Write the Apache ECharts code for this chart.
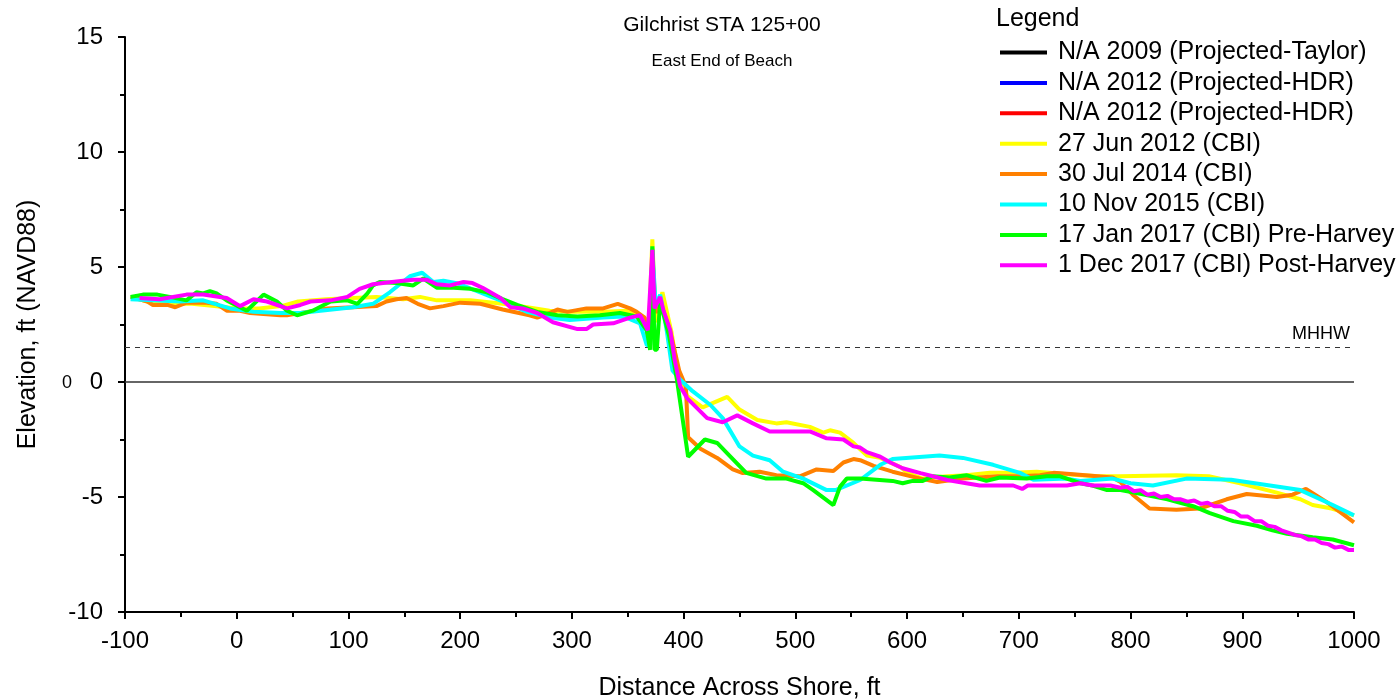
<!DOCTYPE html>
<html>
<head>
<meta charset="utf-8">
<script src="https://cdn.jsdelivr.net/npm/echarts@6/dist/echarts.min.js"></script>
<style>
  html, body { margin: 0; padding: 0; background: #fff; }
  #perfil { width: 1400px; height: 700px; }
</style>
</head>
<body>
<div id="perfil"></div>
<script>
/** PERFIL DE PLAYA - GILCHRIST STA 125+00 */

var fuente = 'Liberation Sans, Arial, sans-serif';
var nivel_mhhw = 1.5;

var nombres = [
    'N/A 2009 (Projected-Taylor)',
    'N/A 2012 (Projected-HDR)',
    'N/A 2012 (Projected-HDR) ',
    '27 Jun 2012 (CBI)',
    '30 Jul 2014 (CBI)',
    '10 Nov 2015 (CBI)',
    '17 Jan 2017 (CBI) Pre-Harvey',
    '1 Dec 2017 (CBI) Post-Harvey'
];
var colores = ['#000000', '#0000ff', '#ff0000', '#ffff00', '#ff8000', '#00ffff', '#00ff00', '#ff00ff'];

// perfiles proyectados: sin datos en el grafico
var proy_2009 = [];
var proy_2012_a = [];
var proy_2012_b = [];

var jun_2012 = [
    [-95,3.7],[-80,3.5],[-60,3.4],[-40,3.4],[-20,3.3],[0,3.2],[20,3.2],[40,3.3],[55,3.5],[80,3.6],
    [104,3.65],[125,3.7],[149,3.6],[164,3.7],[179,3.55],[209,3.55],[238,3.4],[260,3.25],[280,3.1],
    [298,3.05],[328,3.05],[352,3.1],[365,2.8],[369,2.4],[372,6.2],[375,2.6],[381,3.9],[389,2.2],
    [395,0.4],[403,-0.6],[417,-1.1],[439,-0.65],[450,-1.2],[466,-1.65],[483,-1.8],[492,-1.75],
    [513,-1.95],[525,-2.2],[531,-2.1],[540,-2.2],[552,-2.65],[564,-3.2],[576,-3.3],[594,-3.7],
    [600,-3.95],[614,-4.2],[636,-4.1],[653,-4.05],[674,-3.95],[695,-3.95],[716,-3.9],[755,-4.05],
    [773,-4.1],[791,-4.1],[841,-4.05],[870,-4.1],[898,-4.4],[930,-4.8],[952,-5.1],[963,-5.35],
    [980,-5.5],[1000,-5.8]
];

var jul_2014 = [
    [-95,3.7],[-80,3.5],[-75,3.35],[-62,3.35],[-55,3.25],[-45,3.45],[-27,3.45],[-18,3.4],[-9,3.1],
    [3,3.1],[12,3.0],[39,2.9],[45,2.9],[63,3.05],[81,3.2],[104,3.25],[125,3.3],[134,3.5],[143,3.6],
    [152,3.65],[162,3.4],[173,3.2],[185,3.3],[200,3.45],[218,3.4],[238,3.15],[262,2.9],[269,2.8],
    [275,2.9],[287,3.15],[296,3.05],[313,3.2],[328,3.2],[341,3.4],[352,3.2],[358,3.05],[365,2.8],
    [368,1.95],[370,2.0],[372,5.6],[375,3.0],[379,3.5],[388,2.2],[396,0.5],[402,-0.2],[404,-2.4],
    [415,-2.9],[430,-3.3],[444,-3.8],[453,-3.96],[468,-3.9],[483,-4.05],[504,-4.1],[519,-3.8],
    [534,-3.87],[543,-3.5],[552,-3.35],[558,-3.4],[570,-3.65],[587,-3.9],[612,-4.2],[627,-4.35],
    [650,-4.2],[681,-4.1],[701,-4.1],[719,-4.05],[731,-3.95],[746,-4.0],[784,-4.15],[791,-4.35],
    [802,-4.9],[817,-5.5],[841,-5.55],[862,-5.5],[886,-5.1],[904,-4.87],[931,-5.0],[945,-4.9],
    [957,-4.65],[975,-5.2],[1000,-6.1]
];

var nov_2015 = [
    [-95,3.6],[-75,3.55],[-51,3.5],[-30,3.55],[-6,3.2],[15,3.05],[39,3.0],[57,3.0],[75,3.1],
    [104,3.25],[122,3.4],[137,3.9],[155,4.6],[166,4.75],[176,4.35],[185,4.4],[197,4.3],[218,3.9],
    [238,3.5],[260,3.05],[280,2.8],[298,2.7],[328,2.8],[346,2.85],[361,2.55],[367,1.6],[370,1.6],
    [372,5.8],[375,3.3],[379,3.8],[385,2.2],[390,0.5],[397,0.1],[408,-0.4],[424,-1.0],[435,-1.57],
    [450,-2.8],[462,-3.2],[477,-3.4],[489,-3.9],[507,-4.2],[528,-4.7],[536,-4.7],[558,-4.26],
    [576,-3.6],[587,-3.35],[629,-3.2],[650,-3.3],[677,-3.6],[701,-3.95],[713,-4.25],[743,-4.2],
    [755,-4.3],[784,-4.2],[800,-4.4],[820,-4.5],[850,-4.2],[890,-4.25],[952,-4.7],[981,-5.35],
    [1000,-5.8]
];

var ene_2017 = [
    [-95,3.7],[-84,3.8],[-71,3.8],[-60,3.7],[-45,3.55],[-36,3.9],[-30,3.85],[-24,3.95],[-18,3.85],
    [-9,3.55],[9,3.1],[24,3.8],[36,3.5],[45,3.1],[54,2.9],[68,3.1],[84,3.5],[99,3.55],[108,3.4],
    [117,3.85],[122,4.2],[128,4.35],[143,4.3],[158,4.2],[167,4.5],[179,4.1],[194,4.1],[209,4.05],
    [224,3.9],[238,3.6],[251,3.35],[269,3.05],[287,2.9],[305,2.85],[325,2.9],[343,3.0],[358,2.85],
    [367,2.25],[370,1.4],[372,5.9],[374,1.4],[376,1.4],[379,3.5],[387,2.0],[394,0.1],[404,-3.25],
    [419,-2.5],[430,-2.65],[441,-3.2],[456,-3.95],[474,-4.2],[492,-4.2],[507,-4.4],[516,-4.7],
    [534,-5.35],[540,-4.55],[546,-4.2],[558,-4.2],[587,-4.3],[596,-4.4],[605,-4.3],[614,-4.3],
    [623,-4.1],[638,-4.15],[653,-4.05],[671,-4.3],[683,-4.15],[707,-4.2],[725,-4.1],[737,-4.1],
    [755,-4.4],[766,-4.5],[779,-4.7],[791,-4.7],[802,-4.8],[833,-5.1],[856,-5.4],[871,-5.7],
    [892,-6.05],[913,-6.25],[927,-6.45],[940,-6.6],[963,-6.75],[981,-6.85],[1000,-7.1]
];

var dic_2017 = [
    [-87,3.65],[-69,3.6],[-45,3.8],[-30,3.8],[-9,3.65],[3,3.3],[15,3.6],[27,3.5],[45,3.2],[57,3.35],
    [66,3.5],[84,3.55],[99,3.7],[110,4.05],[122,4.25],[131,4.3],[149,4.4],[158,4.45],[170,4.45],
    [179,4.25],[191,4.2],[203,4.35],[211,4.3],[220,4.1],[236,3.65],[245,3.25],[256,3.2],[269,3.0],
    [283,2.6],[305,2.3],[313,2.3],[319,2.5],[337,2.55],[352,2.8],[361,2.9],[368,2.25],[372,5.75],
    [374,3.2],[379,3.7],[382,3.1],[388,2.25],[392,0.95],[397,-0.2],[403,-0.7],[421,-1.57],
    [435,-1.75],[448,-1.45],[462,-1.8],[477,-2.15],[513,-2.15],[528,-2.45],[543,-2.5],[552,-2.8],
    [558,-2.85],[564,-3.05],[576,-3.25],[585,-3.5],[596,-3.75],[612,-3.96],[623,-4.1],[636,-4.26],
    [653,-4.4],[665,-4.5],[695,-4.5],[703,-4.65],[708,-4.5],[743,-4.5],[755,-4.4],[766,-4.5],
    [782,-4.5],[791,-4.6],[797,-4.55],[803,-4.75],[809,-4.7],[815,-4.9],[821,-4.85],[827,-5.0],
    [833,-4.95],[839,-5.1],[845,-5.1],[851,-5.2],[857,-5.15],[863,-5.3],[869,-5.25],[875,-5.4],
    [881,-5.4],[887,-5.6],[893,-5.65],[899,-5.85],[905,-5.85],[911,-6.05],[917,-6.05],[923,-6.25],
    [929,-6.3],[935,-6.45],[941,-6.55],[947,-6.65],[953,-6.7],[959,-6.85],[965,-6.85],[971,-7.0],
    [977,-7.05],[983,-7.2],[989,-7.15],[995,-7.3],[1000,-7.3]
];

var perfiles = [proy_2009, proy_2012_a, proy_2012_b, jun_2012, jul_2014, nov_2015, ene_2017, dic_2017];

grafico_perfil();

/** GRAFICO PERFIL */
function grafico_perfil() {
    var chart = echarts.init(document.getElementById('perfil'));

    var series = perfiles.map(function(datos, i) {
        return {
            name: nombres[i],
            type: 'line',
            data: datos,
            showSymbol: false,
            symbol: 'none',
            lineStyle: { width: 4, color: colores[i] },
            itemStyle: { color: colores[i] },
            z: 3 + i
        };
    });

    // lineas de referencia: cero y MHHW
    series.push({
        name: 'referencia',
        type: 'line',
        data: [],
        silent: true,
        markLine: {
            silent: true,
            symbol: 'none',
            animation: false,
            data: [
                { yAxis: 0, lineStyle: { color: '#333', width: 1.5, type: 'solid' }, label: { show: false } },
                { yAxis: nivel_mhhw, lineStyle: { color: '#333', width: 1, type: [5, 5] },
                  label: { show: true, position: 'insideEndTop', formatter: 'MHHW', color: '#000',
                           fontFamily: fuente, fontSize: 18, distance: [4, 4] } }
            ]
        }
    });

    var option = {
        animation: false,
        title: {
            text: 'Gilchrist STA 125+00',
            subtext: 'East End of Beach',
            left: 717,
            top: 10,
            textAlign: 'center',
            itemGap: 17,
            textStyle: { fontFamily: fuente, fontSize: 21, fontWeight: 'normal', color: '#000' },
            subtextStyle: { fontFamily: fuente, fontSize: 17, color: '#000' }
        },
        legend: {
            data: nombres,
            orient: 'vertical',
            left: 995,
            top: 35,
            icon: 'rect',
            itemWidth: 47,
            itemHeight: 4,
            itemGap: 5.4,
            selectedMode: false,
            textStyle: { fontFamily: fuente, fontSize: 25, color: '#000', lineHeight: 24, padding: [0, 0, 0, 6] }
        },
        graphic: [
            { type: 'text', left: 996, top: 7, style: { text: 'Legend', font: '25px ' + fuente, fill: '#000' } },
            { type: 'text', left: 62, top: 374, style: { text: '0', font: '18px ' + fuente, fill: '#000' } }
        ],
        grid: { left: 125, right: 46, top: 37, bottom: 88, outerBoundsMode: 'none' },
        xAxis: {
            type: 'value',
            min: -100,
            max: 1000,
            interval: 100,
            name: 'Distance Across Shore, ft',
            nameLocation: 'middle',
            nameGap: 64,
            nameTextStyle: { fontFamily: fuente, fontSize: 25, color: '#000' },
            axisLine: { show: true, onZero: false, lineStyle: { color: '#000', width: 2 } },
            axisTick: { show: true, length: 7, lineStyle: { color: '#000', width: 2 } },
            minorTick: { show: true, splitNumber: 2, length: 5, lineStyle: { color: '#000', width: 2 } },
            splitLine: { show: false },
            axisLabel: { fontFamily: fuente, fontSize: 24, color: '#000', margin: 17, formatter: function(v) { return String(v); } }
        },
        yAxis: {
            type: 'value',
            min: -10,
            max: 15,
            interval: 5,
            name: 'Elevation, ft (NAVD88)',
            nameLocation: 'middle',
            nameGap: 84,
            nameTextStyle: { fontFamily: fuente, fontSize: 25, color: '#000' },
            axisLine: { show: true, onZero: false, lineStyle: { color: '#000', width: 2 } },
            axisTick: { show: true, length: 7, lineStyle: { color: '#000', width: 2 } },
            minorTick: { show: true, splitNumber: 2, length: 5, lineStyle: { color: '#000', width: 2 } },
            splitLine: { show: false },
            axisLabel: { fontFamily: fuente, fontSize: 24, color: '#000', margin: 22 }
        },
        series: series
    };

    chart.setOption(option);
}
</script>
</body>
</html>
